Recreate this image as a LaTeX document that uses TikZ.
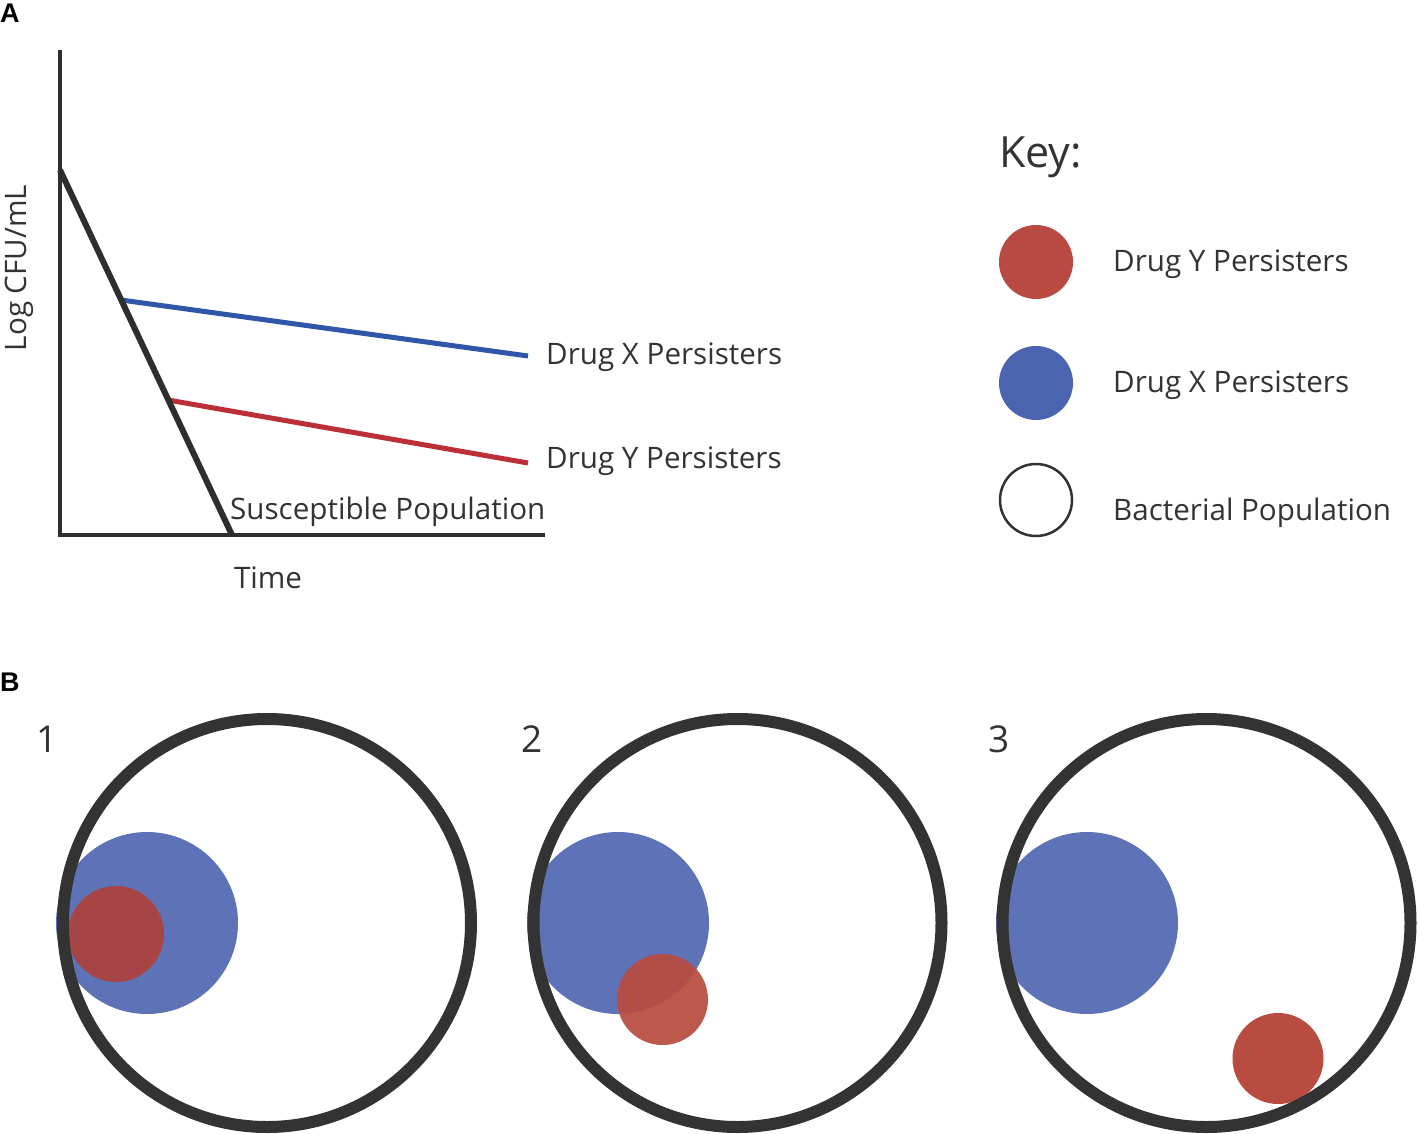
\documentclass[tikz,border=0pt]{standalone}
\usepackage{fontspec}
\setmainfont{Open Sans}
\newfontfamily\panelfont{Liberation Sans}
\definecolor{txtgray}{HTML}{333333}
\definecolor{ringgray}{HTML}{333333}
\definecolor{axisgray}{HTML}{2E2E2E}
\definecolor{lineblue}{HTML}{2F56A8}
\definecolor{linered}{HTML}{BC2F37}
\definecolor{keyred}{HTML}{B84A42}
\definecolor{keyblue}{HTML}{4A64B0}
\definecolor{popblue}{HTML}{5E72B8}
\definecolor{popred}{HTML}{B84C40}
\definecolor{popdarkred}{HTML}{A64446}
\begin{document}
\begin{tikzpicture}[x=1pt,y=-1pt,
  txt/.style={font=\fontsize{29.6}{35}\selectfont, text=txtgray, inner sep=0pt},
  numtxt/.style={font=\fontsize{37}{44}\selectfont, text=txtgray, inner sep=0pt},
  paneltxt/.style={font=\panelfont\bfseries\fontsize{27}{32}\selectfont, text=black, inner sep=0pt},
  axisline/.style={draw=axisgray, line width=4pt},
  killline/.style={draw=axisgray, line width=6pt},
  persline/.style={line width=5pt},
  keydot/.style={circle, inner sep=0pt, minimum size=74pt},
  ring/.style={circle, draw=ringgray, line width=12pt, inner sep=0pt, minimum size=408pt},
  bigblue/.style={circle, fill=popblue, inner sep=0pt, minimum size=182pt},
  smallred/.style={circle, inner sep=0pt, minimum size=91pt}
]
\useasboundingbox (0,0) rectangle (1418,1134);
\fill[white] (0,0) rectangle (1418,1134);

% ---------- Panel A ----------
\node[paneltxt, anchor=base west] (labA) at (0,23) {A};
\coordinate (ytop) at (60,50);
\coordinate (orig) at (60,535);
\coordinate (xend) at (545,535);
\coordinate (s0) at (60,170);
\coordinate (s1) at (232,535);
\coordinate (bx0) at (121,300);
\coordinate (bx1) at (528,356);
\coordinate (ry0) at (168,400);
\coordinate (ry1) at (528,463);
\draw[axisline] (ytop) -- (orig) -- (xend);
\draw[persline, lineblue] (bx0) -- (bx1);
\draw[persline, linered] (ry0) -- (ry1);
\draw[killline] (s0) -- (s1);

\node[txt, anchor=base west] (lx) at (546,364) {Drug X Persisters};
\node[txt, anchor=base west] (ly) at (546,468) {Drug Y Persisters};
\node[txt, anchor=base west] (lsus) at (230,519) {Susceptible Population};
\node[txt, anchor=base] (ltime) at (268,588) {Time};
\node[txt, rotate=90, anchor=base] (lcfu) at (27,268) {Log CFU/mL};

% ---------- Key ----------
\node[txt, font=\fontsize{43}{50}\selectfont, anchor=base west] (key) at (999,168) {Key:};
\node[keydot, fill=keyred] (kred) at (1036,262) {};
\node[keydot, fill=keyblue] (kblue) at (1036,383) {};
\node[keydot, draw=ringgray, line width=2.5pt, minimum size=72pt] (kpop) at (1036,500) {};
\node[txt, anchor=base west] (kredl) at (1113,271) {Drug Y Persisters};
\node[txt, anchor=base west] (kbluel) at (1113,392) {Drug X Persisters};
\node[txt, anchor=base west] (kpopl) at (1113,520) {Bacterial Population};

% ---------- Panel B ----------
\node[paneltxt, anchor=base west] (labB) at (0,691) {B};
\node[numtxt, anchor=base west] (n1) at (36,752) {1};
\node[numtxt, anchor=base west] (n2) at (521,752) {2};
\node[numtxt, anchor=base west] (n3) at (988,752) {3};

% circle 1
\node[bigblue] (b1) at (147,923) {};
\node[smallred, fill=popdarkred, minimum size=96pt] (r1) at (116,934) {};
\node[ring] (ring1) at (267,923) {};
% circle 2
\node[bigblue] (b2) at (618,923) {};
\node[smallred, fill=popred, fill opacity=0.93] (r2) at (662.5,999.5) {};
\node[ring] (ring2) at (737.5,923) {};
% circle 3
\node[bigblue] (b3) at (1087,923) {};
\node[smallred, fill=popred] (r3) at (1278,1058.5) {};
\node[ring] (ring3) at (1206.5,923) {};
\end{tikzpicture}
\end{document}
